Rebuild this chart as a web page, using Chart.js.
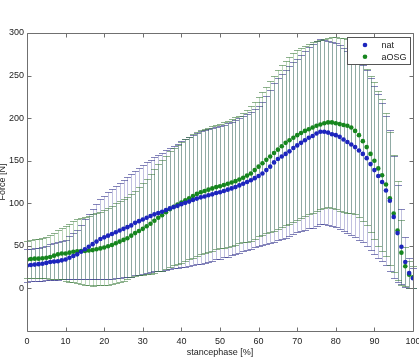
<!DOCTYPE html>
<html>
<head>
<meta charset="utf-8">
<script src="https://cdn.jsdelivr.net/npm/chart.js@4.4.0/dist/chart.umd.min.js"></script>
<style>
    html, body { margin: 0; padding: 0; background: #ffffff; }
    canvas { display: block; }
</style>
</head>
<body>
<canvas id="chart-force" width="419" height="360"></canvas>
<script>
"use strict";

// stance phase in percent (x)
let stance = [0, 1, 2, 3, 4, 5, 6, 7, 8, 9, 10, 11, 12, 13, 14, 15, 16, 17, 18, 19,
    20, 21, 22, 23, 24, 25, 26, 27, 28, 29, 30, 31, 32, 33, 34, 35, 36, 37, 38, 39,
    40, 41, 42, 43, 44, 45, 46, 47, 48, 49, 50, 51, 52, 53, 54, 55, 56, 57, 58, 59,
    60, 61, 62, 63, 64, 65, 66, 67, 68, 69, 70, 71, 72, 73, 74, 75, 76, 77, 78, 79,
    80, 81, 82, 83, 84, 85, 86, 87, 88, 89, 90, 91, 92, 93, 94, 95, 96, 97, 98, 99, 100];

// nat - mean force [N]
let natMean = [27, 27.5, 28, 28.5, 29, 30, 31, 31.5, 32, 33, 34, 36, 38, 40, 43, 46, 49, 52, 55, 58,
    60, 62, 64, 66, 68, 70, 72, 74, 77, 79, 81, 83, 85, 87, 88.5, 90, 92, 94, 95.5, 97,
    99, 100.5, 102, 104, 105.5, 107, 108, 109.5, 110.5, 112, 113, 114.5, 116, 117.5, 119, 121, 123, 125, 127, 129.5,
    132, 135, 139, 143, 148, 152, 155, 158, 161, 165, 168, 171, 174, 177, 179, 182, 184, 184, 183, 181,
    180, 178, 175, 172, 169, 166, 162, 158, 153, 146, 139, 132, 125, 115, 103, 84, 65, 49, 31, 18, 12];

// nat - standard deviation [N]
let natSd = [19, 19, 19.5, 19.5, 20, 20, 21, 21.5, 22, 22.5, 23, 25, 27, 29, 32, 35, 38, 41, 44, 47,
    49, 51, 52.5, 54, 55.5, 57, 58.5, 60, 61.5, 63, 64, 65, 66, 67, 68, 69, 70, 71, 72, 73,
    74, 75, 76, 76.5, 77, 78, 78, 78, 78, 78, 78, 78, 78.5, 78.5, 79, 79, 79.5, 80, 80.5, 81,
    82, 84, 87, 90, 93, 95, 97, 98.5, 100, 101, 102, 103.5, 105, 106.5, 108, 109, 108.5, 108, 108, 108,
    108, 108, 107.5, 107, 106.5, 106, 105, 104, 103, 101, 99, 96, 93, 88, 83, 72, 57, 44, 29, 18, 12];

// aOSG - mean force [N]
let aosgMean = [34, 34.5, 35, 35, 35.5, 36, 37, 38.5, 40, 41, 41, 42, 43, 43.5, 44, 44, 44.5, 45, 46, 47,
    48, 49.5, 51, 53, 55, 57, 59, 62, 65, 67.5, 70, 73, 76, 79.5, 83, 86, 89.5, 93, 96, 98.5,
    101, 103.5, 106, 108.5, 111, 113, 114.5, 116, 117.5, 119, 120, 121.5, 123, 124.5, 126, 128, 130, 132.5, 135, 139,
    143, 147, 151, 155, 159, 163, 167, 171, 174, 177, 180, 182.5, 185, 187, 189, 191, 192.5, 194, 195, 195,
    194, 193, 192, 191, 189, 185, 180, 173, 166, 158, 150, 141, 133, 122, 106, 88, 68, 42, 26, 16, 13];

// aOSG - standard deviation [N]
let aosgSd = [22, 22.5, 23, 23, 23.5, 24, 25.5, 27, 29, 30.5, 32, 34, 36, 37.5, 39, 40, 41, 42, 42.5, 43,
    44, 45, 46, 47, 47.5, 48, 48, 48.5, 50, 52, 54, 56, 58.5, 61, 63, 65, 66.5, 68, 69, 70,
    71, 71.5, 72, 72.5, 73, 73, 73, 73, 73, 73, 73, 73.5, 74, 74.5, 75, 75, 76, 77.5, 79, 80.5,
    82, 84, 86, 88.5, 91, 93, 95, 96.5, 98, 99, 100, 100, 100, 100, 100, 100, 99.5, 99, 99, 100,
    101, 101.5, 102, 102, 100, 98, 96, 94, 92, 92, 92, 91, 89, 84, 78, 69, 58, 38, 23, 16, 13];

let xTicks = [0, 10, 20, 30, 40, 50, 60, 70, 80, 90, 100];
let yTicks = [0, 50, 100, 150, 200, 250, 300];

let xTitle = "stancephase [%]";
let yTitle = "Force [N]";

let fontFamily = "'Liberation Sans', Arial, Helvetica, sans-serif";
let frameColor = "#707070";

function toPoints(xs, ys) {
    let pts = [];
    for (let i = 0; i < xs.length; i++) {
        pts.push({ x: xs[i], y: ys[i] });
    }
    return pts;
}

// error bars drawn under the markers
const errorBarPlugin = {
    id: "errorBars",
    beforeDatasetsDraw(chart) {
        let ctx = chart.ctx;
        let xs = chart.scales.x;
        let ys = chart.scales.y;
        chart.data.datasets.forEach(function (ds) {
            ctx.save();
            ctx.lineWidth = 1;
            for (let i = 0; i < ds.data.length; i++) {
                let pt = ds.data[i];
                let px = Math.round(xs.getPixelForValue(pt.x)) + 0.5;
                let top = Math.round(ys.getPixelForValue(pt.y + ds.errors[i])) + 0.5;
                let bot = Math.round(ys.getPixelForValue(pt.y - ds.errors[i])) + 0.5;
                ctx.strokeStyle = ds.barColor;
                ctx.beginPath();
                ctx.moveTo(px, top);
                ctx.lineTo(px, bot);
                ctx.stroke();
                ctx.strokeStyle = ds.capColor;
                ctx.beginPath();
                ctx.moveTo(px - 3.5, top);
                ctx.lineTo(px + 3.5, top);
                ctx.moveTo(px - 3.5, bot);
                ctx.lineTo(px + 3.5, bot);
                ctx.stroke();
            }
            ctx.restore();
        });
    }
};

// box, inner ticks, axis titles and legend in MATLAB style
const framePlugin = {
    id: "matlabFrame",
    afterDraw(chart) {
        let ctx = chart.ctx;
        let area = chart.chartArea;
        let xs = chart.scales.x;
        let ys = chart.scales.y;
        let l = Math.round(area.left) + 0.5;
        let r = Math.round(area.right) + 0.5;
        let t = Math.round(area.top) + 0.5;
        let b = Math.round(area.bottom) + 0.5;

        ctx.save();
        ctx.strokeStyle = frameColor;
        ctx.lineWidth = 1;
        ctx.beginPath();
        ctx.rect(l, t, r - l, b - t);
        xs.ticks.forEach(function (tk) {
            let px = Math.round(xs.getPixelForValue(tk.value)) + 0.5;
            ctx.moveTo(px, b);
            ctx.lineTo(px, b - 4);
            ctx.moveTo(px, t);
            ctx.lineTo(px, t + 4);
        });
        ys.ticks.forEach(function (tk) {
            let py = Math.round(ys.getPixelForValue(tk.value)) + 0.5;
            ctx.moveTo(l, py);
            ctx.lineTo(l + 4, py);
            ctx.moveTo(r, py);
            ctx.lineTo(r - 4, py);
        });
        ctx.stroke();

        // axis titles
        ctx.fillStyle = "#222222";
        ctx.font = "9px " + fontFamily;
        ctx.textAlign = "center";
        ctx.textBaseline = "alphabetic";
        ctx.fillText(xTitle, (area.left + area.right) / 2, 355);
        ctx.save();
        ctx.translate(5, (area.top + area.bottom) / 2);
        ctx.rotate(-Math.PI / 2);
        ctx.fillText(yTitle, 0, 0);
        ctx.restore();

        // legend
        let lx = 347.5, ly = 37.5, lw = 63, lh = 27;
        ctx.fillStyle = "#ffffff";
        ctx.fillRect(lx, ly, lw, lh);
        ctx.strokeStyle = "#555555";
        ctx.strokeRect(lx, ly, lw, lh);
        ctx.textAlign = "left";
        ctx.textBaseline = "middle";
        chart.data.datasets.forEach(function (ds, i) {
            let my = 45 + i * 11.7;
            ctx.fillStyle = ds.pointBackgroundColor;
            ctx.beginPath();
            ctx.arc(365, my, 2.3, 0, Math.PI * 2);
            ctx.fill();
            ctx.fillStyle = "#222222";
            ctx.fillText(ds.label, 381.5, my + 0.5);
        });
        ctx.restore();
    }
};

let canvas = document.getElementById("chart-force");

let forceChart = new Chart(canvas, {
    "type": "scatter",
    "data": {
        "datasets": [{
            "label": "nat",
            "data": toPoints(stance, natMean),
            "errors": natSd,
            "barColor": "rgba(50, 50, 150, 0.30)",
            "capColor": "rgba(50, 50, 140, 0.60)",
            "pointBackgroundColor": "#1c25bd",
            "pointBorderWidth": 0,
            "pointRadius": 2.3,
            "showLine": false
        }, {
            "label": "aOSG",
            "data": toPoints(stance, aosgMean),
            "errors": aosgSd,
            "barColor": "rgba(30, 120, 30, 0.30)",
            "capColor": "rgba(50, 115, 50, 0.55)",
            "pointBackgroundColor": "#16861e",
            "pointBorderWidth": 0,
            "pointRadius": 2.3,
            "showLine": false
        }]
    },
    "options": {
        responsive: false,
        maintainAspectRatio: false,
        animation: false,
        devicePixelRatio: 1,
        layout: {
            padding: { left: 0, right: 6, top: 33, bottom: 0 }
        },
        plugins: {
            legend: { display: false },
            tooltip: { enabled: false }
        },
        scales: {
            x: {
                type: "linear",
                min: 0,
                max: 100,
                grid: { display: false, drawTicks: false },
                border: { display: false },
                ticks: {
                    padding: 5,
                    maxRotation: 0,
                    autoSkip: false,
                    color: "#222222",
                    font: { family: fontFamily, size: 9 }
                },
                afterBuildTicks: function (scale) {
                    scale.ticks = xTicks.map(function (v) { return { value: v }; });
                },
                afterFit: function (scale) {
                    scale.height = 29;
                    scale.paddingLeft = 0;
                    scale.paddingRight = 0;
                }
            },
            y: {
                type: "linear",
                min: -50,
                max: 300,
                grid: { display: false, drawTicks: false },
                border: { display: false },
                ticks: {
                    padding: 3,
                    autoSkip: false,
                    color: "#222222",
                    font: { family: fontFamily, size: 9 }
                },
                afterBuildTicks: function (scale) {
                    scale.ticks = yTicks.map(function (v) { return { value: v }; });
                },
                afterFit: function (scale) {
                    scale.width = 27;
                    scale.paddingTop = 0;
                    scale.paddingBottom = 0;
                }
            }
        }
    },
    plugins: [errorBarPlugin, framePlugin]
});
</script>
</body>
</html>
